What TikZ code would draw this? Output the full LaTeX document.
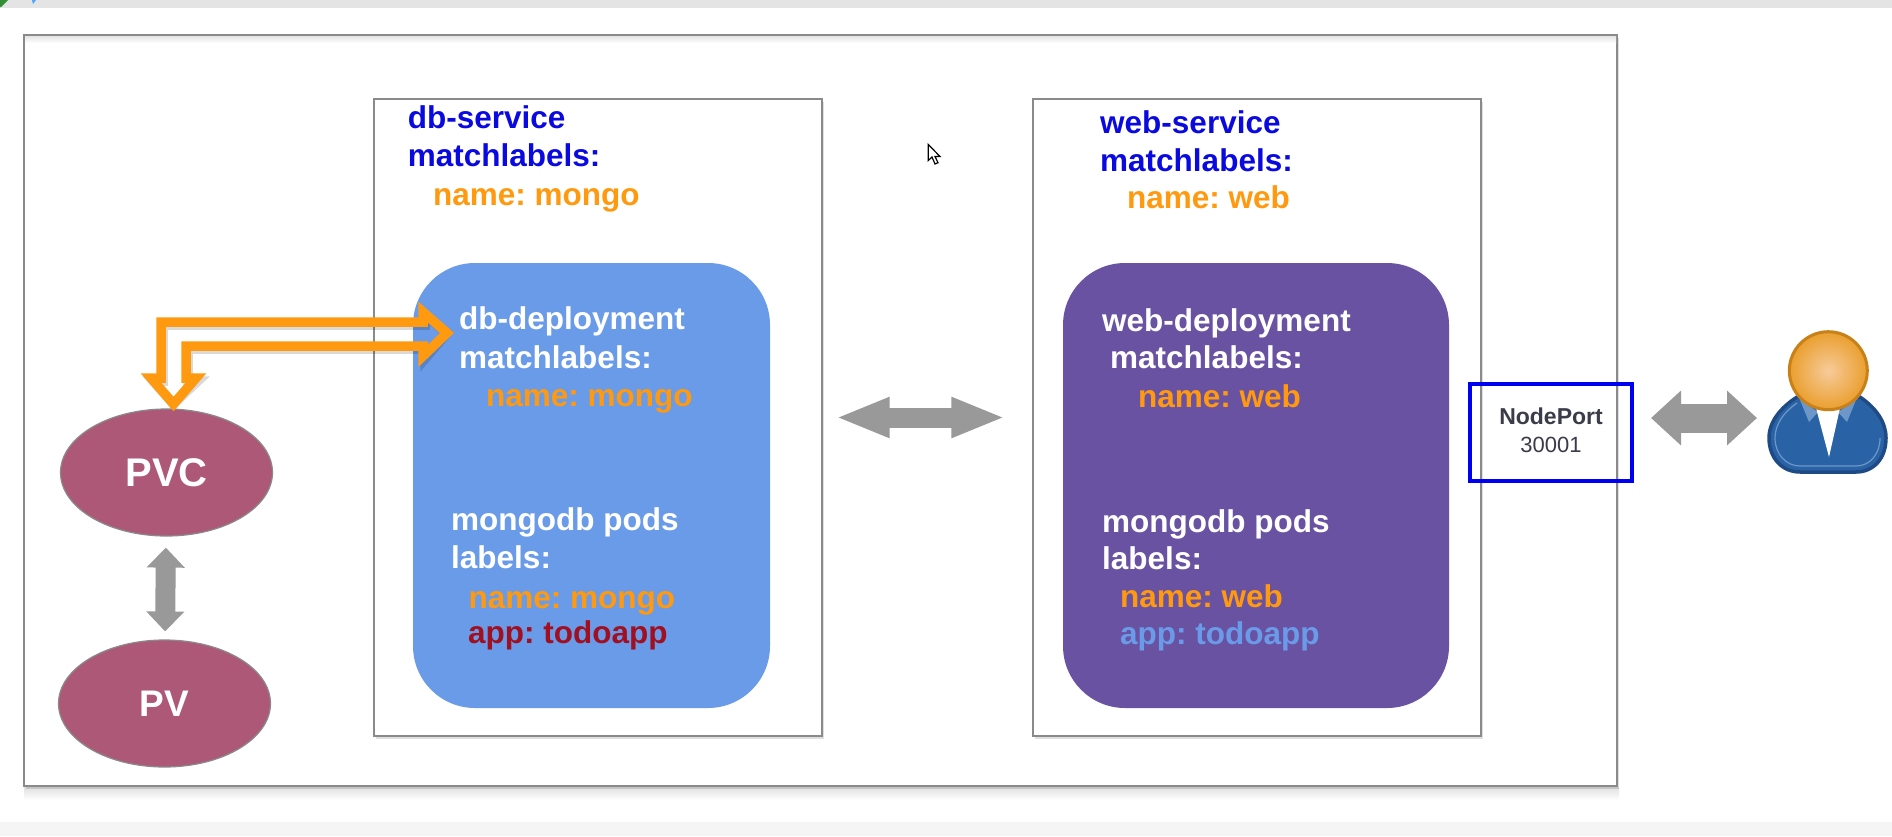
\documentclass[tikz,border=0pt]{standalone}
\usepackage{fontspec}
\setmainfont{Liberation Sans}
\frenchspacing
\usetikzlibrary{arrows.meta,shapes.geometric,shadows}
\definecolor{topbar}{HTML}{E4E4E4}
\definecolor{botbar}{HTML}{F5F5F5}
\definecolor{boxline}{HTML}{8A8A8A}
\definecolor{dbblue}{HTML}{6A9BE8}
\definecolor{webpurple}{HTML}{6A52A3}
\definecolor{volrose}{HTML}{AE5878}
\definecolor{orangeline}{HTML}{FF9A10}
\definecolor{arrowgray}{HTML}{999999}
\definecolor{portblue}{HTML}{0000F0}
\definecolor{titleblue}{HTML}{0A0AE0}
\definecolor{appred}{HTML}{A01020}
\definecolor{porttext}{HTML}{3B3B4A}
\definecolor{suitdark}{HTML}{1E4B85}
\definecolor{suit}{HTML}{2A63A5}
\definecolor{suitlight}{HTML}{6C97C8}
\definecolor{headrim}{HTML}{C88018}
\definecolor{headin}{HTML}{F7CB9A}
\definecolor{headout}{HTML}{EA9F2E}
\tikzset{
  x=1pt,y=-1pt,
  frame/.style={draw=boxline,line width=1.4pt,fill=white,
    drop shadow={shadow xshift=2pt,shadow yshift=-3pt,opacity=.12,fill=black}},
  rbox/.style={rounded corners=62pt,draw=none},
  vol/.style={ellipse,draw=boxline,line width=1.2pt,fill=volrose,text=white,
    inner sep=0pt,minimum width=212pt,minimum height=127pt,font=\fontsize{40}{40}\selectfont\bfseries},
  txt/.style={anchor=base west,inner sep=0pt,font=\fontsize{31.5}{36}\selectfont\bfseries},
  wline/.style={txt,text=white},
  bline/.style={txt,text=titleblue},
  oline/.style={txt,text=orangeline},
  gapvert/.style={arrowgray,line width=20pt,{Triangle[length=20pt,width=37pt]}-{Triangle[length=20pt,width=37pt]}},
  gaphor/.style={arrowgray,line width=20pt,{Triangle[length=54pt,width=37pt]}-{Triangle[length=54pt,width=37pt]}},
  gapport/.style={arrowgray,line width=29pt,{Triangle[length=30pt,width=53pt]}-{Triangle[length=30pt,width=53pt]}},
}
\newcommand{\orangepath}{(otip) -- (423,312) -- (423,322) -- (161,322) -- (161,378) -- (151,378)
  -- (ptip) -- (196,378) -- (186,378) -- (186,346) -- (423,346) -- (423,356) -- cycle}
\begin{document}
\begin{tikzpicture}
\useasboundingbox (0,0) rectangle (1892,836);
\fill[white] (0,0) rectangle (1892,836);
\fill[topbar] (0,0) rectangle (1892,8);
\fill[green!45!black!80] (0,0) -- (8,0) -- (1,7) -- (0,7) -- cycle;
\fill[blue!50!cyan!70] (32,0) -- (36,0) -- (33,4) -- cycle;
\fill[botbar] (0,822) rectangle (1892,836);
% frames
\shade[top color=black!12,bottom color=white] (24,787) rectangle (1619,800);
\path[frame] (24,35) rectangle (1617,786);
\shade[top color=topbar,bottom color=white] (25,36) rectangle (1616,43);
\node[frame,minimum width=448pt,minimum height=637pt,inner sep=0pt] (dbbox) at (598,417.5) {};
\node[frame,minimum width=448pt,minimum height=637pt,inner sep=0pt] (webbox) at (1257,417.5) {};
% deployments
\fill[dbblue,rbox] (413,263) rectangle (770,708);
\fill[webpurple,rbox] (1063,263) rectangle (1449,708);
% volumes
\node[vol] (pvc) at (166.5,472.5) {PVC};
\node[vol,font=\fontsize{37}{37}\selectfont\bfseries] (pv) at (164.5,703.5) {PV};
% db service text
\node[bline] (t1) at (407.6,128.5) {db-service};
\node[bline] (t2) at (407.6,166) {matchlabels:};
\node[oline] (t3) at (433,205) {name: mongo};
% db deployment text
\node[wline] (t4) at (459,329) {db-deployment};
\node[wline] (t5) at (459,368) {matchlabels:};
\node[oline] (t6) at (486,406) {name: mongo};
\node[wline] (t7) at (451,530) {mongodb pods};
\node[wline] (t8) at (451,568) {labels:};
\node[oline] (t9) at (468.5,608) {name: mongo};
\node[txt,text=appred] (t10) at (468,643) {app: todoapp};
% web service text
\node[bline] (u1) at (1100,133) {web-service};
\node[bline] (u2) at (1100,171) {matchlabels:};
\node[oline] (u3) at (1127,208) {name: web};
% web deployment text
\node[wline] (u4) at (1102,331) {web-deployment};
\node[wline] (u5) at (1110,368) {matchlabels:};
\node[oline] (u6) at (1138,407) {name: web};
\node[wline] (u7) at (1102,532) {mongodb pods};
\node[wline] (u8) at (1102,569) {labels:};
\node[oline] (u9) at (1120,607) {name: web};
\node[txt,text=dbblue] (u10) at (1120,644) {app: todoapp};
% orange bent double arrow
\coordinate (otip) at (447,333);
\coordinate (ptip) at (173.5,404);
\draw[black,opacity=.15,line width=9.5pt,line join=miter,shift={(2,3)}] \orangepath;
\draw[orangeline,line width=9.5pt,line join=miter] \orangepath;
% grey connectors
\draw[gapvert,shorten <=11pt,shorten >=8pt] (pvc) -- (pv);
\draw[gaphor,shorten <=13pt,shorten >=27pt] (dbbox.east) -- (webbox.west);
% node port
\node[draw=portblue,line width=4.5pt,fill=none,minimum width=162pt,minimum height=97pt,inner sep=0pt,outer sep=0pt] (port) at (1551,432.5) {};
\node[anchor=base,inner sep=0pt,text=porttext,font=\fontsize{23}{24}\selectfont\bfseries] (portname) at (1551,424) {NodePort};
\node[anchor=base,inner sep=0pt,text=porttext,font=\fontsize{22}{24}\selectfont] (portnum) at (1551,452) {30001};
% user
\coordinate (userleft) at (1768,418);
\draw[gapport,shorten <=19pt,shorten >=11pt] (port.east |- userleft) -- (userleft);
\path[draw=suitdark,line width=3.5pt,fill=suit]
  (1797,397) .. controls (1780,408) and (1769,422) .. (1769,438)
  .. controls (1769,458) and (1782,472) .. (1800,472)
  -- (1856,472) .. controls (1874,472) and (1886,458) .. (1886,438)
  .. controls (1886,422) and (1876,408) .. (1860,397) -- cycle;
\draw[suitlight,line width=1.2pt]
  (1797,403) .. controls (1784,412) and (1775,424) .. (1775,438)
  .. controls (1775,454) and (1786,466) .. (1800,466)
  -- (1856,466) .. controls (1870,466) and (1880,454) .. (1880,438);
\fill[suitlight] (1800,400) -- (1818,412) -- (1809,422) -- cycle;
\fill[suitlight] (1856,400) -- (1838,412) -- (1847,422) -- cycle;
\fill[white] (1816,408) -- (1829,457) -- (1840,408) -- cycle;
\shade[inner color=headin,outer color=headout,draw=headrim,line width=3pt] (1828.3,370.7) circle (39);
% cursor
\draw[black,fill=white,line width=1.2pt,line join=miter]
  (928.3,144.5) -- (928.3,160.5) -- (932,157) -- (935,164) -- (938,162.7) -- (935,156.5) -- (940,156.5) -- cycle;
\end{tikzpicture}
\end{document}
